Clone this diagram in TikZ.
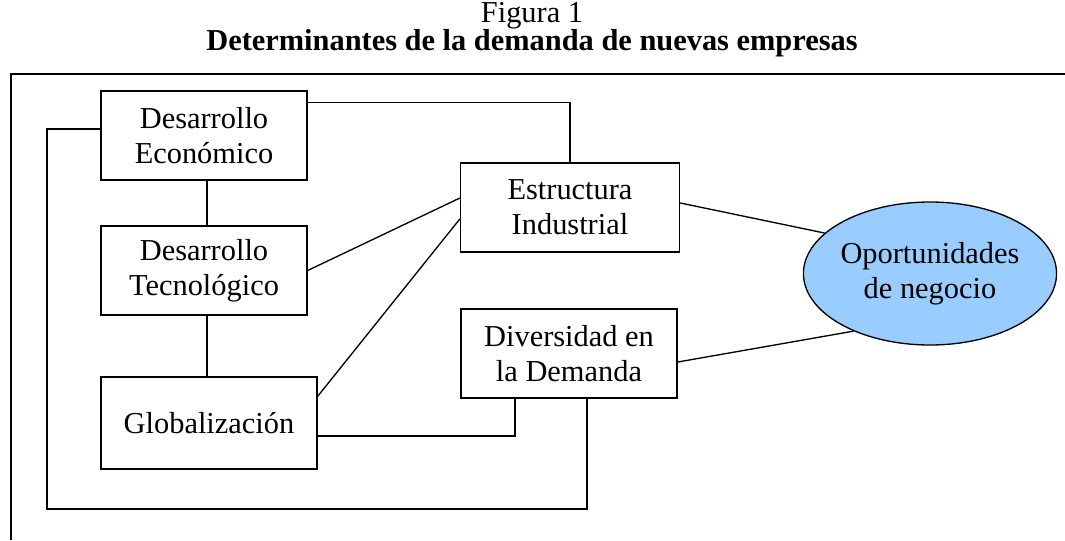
\documentclass[tikz,border=0pt]{standalone}
\usepackage{fontspec}
\setmainfont{Liberation Serif}
\usetikzlibrary{shapes.geometric}
\begin{document}
\begin{tikzpicture}[x=0.75pt,y=-0.75pt]
			\tikzstyle{b} = [draw, line width=1pt, rectangle, align=center, inner sep=0pt, font=\fontsize{22.8}{26.5}\selectfont]
			\tikzstyle{l} = [line width=1pt]
			\useasboundingbox (0,0) rectangle (1065,540);
			
			\node [font=\fontsize{22.8}{26.5}\selectfont] (fig) at (532,16) {Figura 1};
			\node [font=\fontsize{22.8}{26.5}\selectfont\bfseries] (tit) at (532,43) {Determinantes de la demanda de nuevas empresas};
			\draw [line width=1.6pt] (11,540) -- (11,74) -- (1065,74);
			
			\node [b,minimum width=154.5pt,minimum height=66.75pt] (de) at (204,135.5) {Desarrollo\\Económico};
			\node [b,minimum width=154.5pt,minimum height=66.75pt] (dt) at (204,270.5) {Desarrollo\\Tecnológico};
			\node [b,minimum width=162pt,minimum height=69pt] (gl) at (209,423) {Globalización};
			\node [b,minimum width=164.25pt,minimum height=66.75pt] (ei) at (570,207.5) {Estructura\\Industrial};
			\node [b,minimum width=162pt,minimum height=66.75pt] (dd) at (569,353.5) {Diversidad en\\la Demanda};
			\node [b,ellipse,fill={rgb,255:red,153;green,204;blue,255},minimum width=161.25pt,minimum height=107.25pt] (op) at (930,273.5) {Oportunidades\\de negocio};
			
			\draw [l] ([yshift=4.9pt]de.west) -| (47,509) -| ([xshift=13.5pt]dd.south);
			\draw [l] ([yshift=-9pt]de.north east) -| (ei.north);
			\draw [l] ([xshift=2.25pt]de.south) -- ([xshift=2.25pt]dt.north);
			\draw [l] ([xshift=2.25pt]dt.south) -- ([xshift=-1.5pt]gl.north);
			\draw [l] (dt.east) -- ([yshift=7.1pt]ei.west);
			\draw [l] ([yshift=-15pt]gl.north east) -- ([yshift=-8.6pt]ei.west);
			\draw [l] ([yshift=-9.75pt]gl.east) -| ([xshift=-40.5pt]dd.south);
			\draw [l] ([yshift=3.4pt]ei.east) -- (op.159);
			\draw [l] ([yshift=-6.4pt]dd.east) -- (op.217);
			
		\end{tikzpicture}
\end{document}
